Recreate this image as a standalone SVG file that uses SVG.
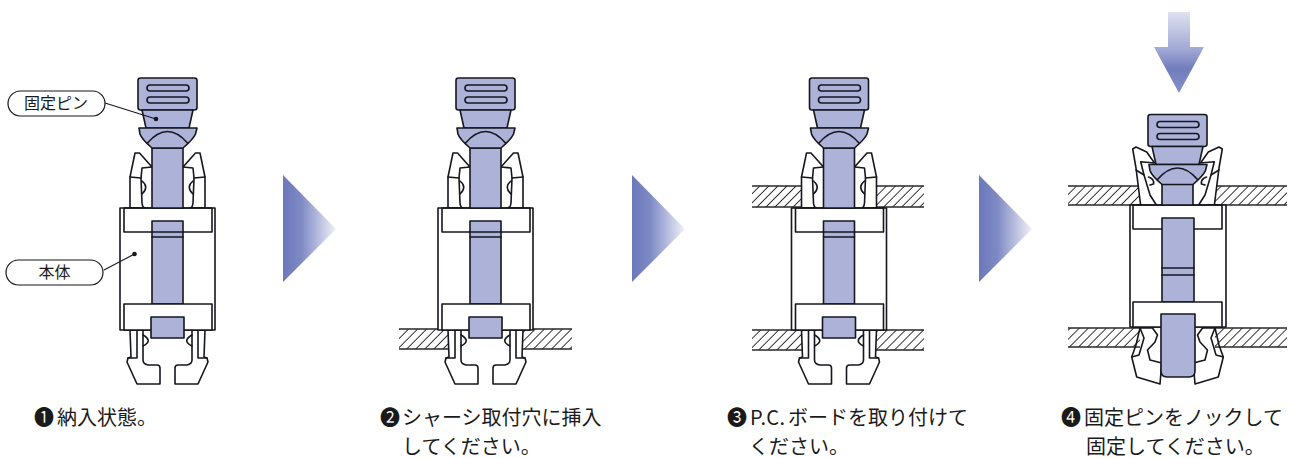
<svg xmlns="http://www.w3.org/2000/svg" width="1292" height="458" viewBox="0 0 1292 458">
<style>
.l{stroke:#16161f;stroke-width:1.6;stroke-linejoin:round;stroke-linecap:round}
.w{fill:#fff}
.p{fill:#adb2d9}
.n{fill:none}
.h{fill:url(#hatch)}
.e{stroke:#2a2a2a;stroke-width:1.3;fill:none}
.c{font-family:"Noto Sans CJK JP","Noto Sans",sans-serif;font-size:20px;fill:#1a1a1a}
.t{font-family:"Noto Sans CJK JP","Noto Sans",sans-serif;font-size:16px;fill:#1a1a1a;text-anchor:middle}
.lead{stroke:#16161f;stroke-width:1.1;fill:none}
.pill{fill:#fff;stroke:#16161f;stroke-width:1.2}
</style>
<defs>
<pattern id="hatch" patternUnits="userSpaceOnUse" width="6.4" height="6.4" patternTransform="rotate(45)"><rect width="6.4" height="6.4" fill="#fff"/><line x1="3.2" y1="0" x2="3.2" y2="6.4" stroke="#222" stroke-width="0.9"/></pattern>
<linearGradient id="tri" x1="0" x2="1" y1="0" y2="0"><stop offset="0" stop-color="#6b78ba"/><stop offset="0.35" stop-color="#7f8ac4"/><stop offset="1" stop-color="#f0f1f8"/></linearGradient>
<linearGradient id="down" x1="0" x2="0" y1="0" y2="1"><stop offset="0" stop-color="#dfe1f0"/><stop offset="0.45" stop-color="#a3aad6"/><stop offset="0.7" stop-color="#717ebd"/><stop offset="1" stop-color="#8590c8"/></linearGradient>
<polygon id="tri-shape" points="0,0 53,54 0,107" fill="url(#tri)"/>
<g id="head">
<rect class="l p" x="-29.5" y="0" width="59" height="32" rx="2.5"/>
<rect class="l n" x="-20.5" y="7" width="42" height="6" rx="3"/>
<rect class="l n" x="-20.5" y="19" width="42" height="6" rx="3"/>
<path class="l p" d="M-25.5,32 L-21.5,50 H21.5 L25.5,32 Z"/>
<path class="l p" d="M-28.5,50 H29.5 L28,56 Q26,61 15.5,70 H-15.5 Q-26,61 -27.5,56 Z"/>
<path class="l n" d="M-20,65 Q0,42 20,65"/>
</g>
<g id="claw-up">
<path class="l w" d="M-37.5,130 V99 L-32.5,75 H-28 L-15.5,89 L-25.5,90 L-26.5,100 L-25.5,125 Q-25,130 -22,130 Z"/>
<path class="l n" d="M-37.5,99 L-26.5,100"/>
<path class="l n" d="M-25.5,103 Q-18,109 -25.5,116"/>
</g>
<g id="claw-down">
<path class="l w" d="M-37.5,252 L-36.5,279 L-39.500,280 L-40.5,284 L-30.5,306 H-7.5 V290 Q-7.500,287 -10.500,287 H-19.500 Q-24.500,286 -24.5,282 V252 Z"/>
<path class="l n" d="M-30.5,252 V280 H-39.500"/>
<path class="l n" d="M-24.5,257 Q-14,263 -24.5,268"/>
</g>
<g id="assembly">
<use href="#claw-up"/><use href="#claw-up" transform="scale(-1,1)"/>
<use href="#claw-down"/><use href="#claw-down" transform="scale(-1,1)"/>
<rect class="l w" x="-47.5" y="130" width="95" height="122"/>
<rect class="l n" x="-43.5" y="130" width="88" height="24"/>
<rect class="l p" x="-15.5" y="70" width="31" height="60"/>
<use href="#head"/>
<rect class="l p" x="-15.5" y="143" width="31" height="83"/>
<path class="l n" d="M-15.5,154 H15.5 M-15.5,159 H15.5"/>
<rect class="l w" x="-43.5" y="226" width="88" height="26"/>
<rect class="l p" x="-16.5" y="239" width="33" height="21"/>
</g>
<g id="claw-up-4">
<path class="l w" d="M-36.800,205.500 L-41.500,168 L-44.800,149 L-41.500,147 L-30.800,152 L-23,163 L-36.800,161.700 L-33.500,175 L-27.500,195 L-20.800,205.500 Z"/>
<path class="l n" d="M-41.500,170 L-33.500,175"/>
<path class="l n" d="M-29,177 Q-23,179 -24,184 L-27.500,185"/>
</g>
<g id="claw-down-4">
<path class="l w" d="M-37.500,328 L-33.500,338 L-38.500,355 L-45.800,357 L-40.800,377 L-17.500,384 L-15.800,363 L-27.500,360 L-30,350 L-22.500,342 L-20,335 L-25,328 Z"/>
<path class="l n" d="M-37.500,328 L-41.500,345 L-45.800,357"/>
</g>
</defs>

<g id="step-arrows">
<use id="arrow-1" href="#tri-shape" x="283" y="175"/>
<use id="arrow-2" href="#tri-shape" x="632" y="175"/>
<use id="arrow-3" href="#tri-shape" x="979" y="175"/>
<polygon id="arrow-down" points="1168,12 1190,12 1190,47 1204,47 1179,93 1154,47 1168,47" fill="url(#down)"/>
</g>

<g id="step1">
<use href="#assembly" x="167.500" y="78"/>
</g>
<g id="label-pin">
<rect class="pill" x="8" y="91" width="97" height="25" rx="12.500"/>
<text class="t" x="56" y="109">固定ピン</text>
</g>
<g id="label-body">
<rect class="pill" x="6" y="260" width="97" height="25" rx="12.500"/>
<text class="t" x="54.500" y="278">本体</text>
</g>

<g id="step2">
<rect class="h" x="399" y="329" width="49" height="20"/>
<rect class="h" x="523" y="329" width="49" height="20"/>
<path class="e" d="M399,329 H448 M399,349 H448 M523,329 H572 M523,349 H572"/>
<use href="#assembly" x="485.500" y="78"/>
</g>

<g id="step3">
<rect class="h" x="752" y="186" width="50" height="21"/>
<rect class="h" x="876" y="186" width="48" height="21"/>
<rect class="h" x="752" y="330" width="50" height="20"/>
<rect class="h" x="876" y="330" width="48" height="20"/>
<path class="e" d="M752,186 H802 M752,207 H802 M876,186 H924 M876,207 H924 M752,330 H802 M752,350 H802 M876,330 H924 M876,350 H924"/>
<use href="#assembly" x="839" y="78"/>
</g>

<g id="step4">
<rect class="h" x="1068" y="186" width="73" height="19"/>
<rect class="h" x="1214" y="186" width="73" height="19"/>
<rect class="h" x="1068" y="328" width="72" height="19"/>
<rect class="h" x="1215" y="328" width="72" height="19"/>
<path class="e" d="M1068,186 H1141 M1068,205 H1141 M1214,186 H1287 M1214,205 H1287 M1068,328 H1140 M1068,347 H1140 M1215,328 H1287 M1215,347 H1287"/>
<g transform="translate(1177.500,0)">
<use href="#claw-up-4"/><use href="#claw-up-4" transform="scale(-1,1)"/>
<use href="#claw-down-4"/><use href="#claw-down-4" transform="scale(-1,1)"/>
<rect class="l w" x="-47.500" y="205" width="96" height="122"/>
<rect class="l n" x="-44.500" y="205" width="89" height="24"/>
<rect class="l p" x="-15.500" y="184" width="31" height="21"/>
<use href="#head" y="114.500"/>
<rect class="l p" x="-15.500" y="218" width="32" height="84"/>
<path class="l n" d="M-15.500,268 H16.500 M-15.500,275 H16.500"/>
<rect class="l w" x="-44.500" y="302" width="89" height="25"/>
<path class="l p" d="M-16.500,314 H17.500 V371 Q17.500,377 11.500,377 H-10.500 Q-16.500,377 -16.500,371 Z"/>
</g>
</g>

<g id="connectors">
<path class="lead" d="M105,103 L156,119"/>
<circle cx="156" cy="119" r="2.300" fill="#16161f"/>
<path class="lead" d="M104,270 L134.500,254"/>
<circle cx="134.500" cy="254" r="2.300" fill="#16161f"/>
</g>

<g id="captions">
<text class="c" y="425"><tspan x="34">❶</tspan><tspan x="57">納入状態。</tspan></text>
<text class="c" y="425"><tspan x="380">❷</tspan><tspan x="402">シャーシ取付穴に挿入</tspan></text>
<text class="c" x="402" y="454">してください。</text>
<text class="c" y="425"><tspan x="727">❸</tspan><tspan x="750" textLength="35">P.C.</tspan><tspan x="788">ボードを取り付けて</tspan></text>
<text class="c" x="749" y="454">ください。</text>
<text class="c" y="425"><tspan x="1061">❹</tspan><tspan x="1084">固定ピンをノックして</tspan></text>
<text class="c" x="1086" y="454">固定してください。</text>
</g>
</svg>
